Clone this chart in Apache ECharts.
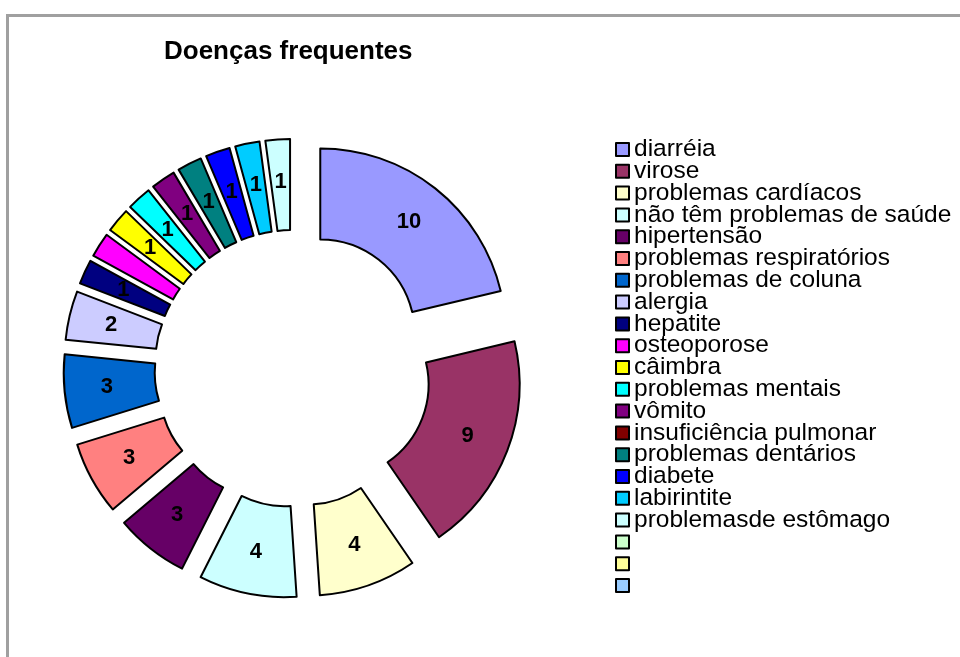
<!DOCTYPE html>
<html>
<head>
<meta charset="utf-8">
<title>Doenças frequentes</title>
<script src="https://cdn.jsdelivr.net/npm/echarts@6/dist/echarts.min.js"></script>
<style>
  html, body { margin: 0; padding: 0; background: #fff; }
  #main { width: 960px; height: 657px; }
</style>
</head>
<body>
<div id="main"></div>
<script>
// categorias, valores e cores (paleta padrão do Excel)
const categories = [
    'diarréia', 'virose', 'problemas cardíacos', 'não têm problemas de saúde',
    'hipertensão', 'problemas respiratórios', 'problemas de coluna', 'alergia',
    'hepatite', 'osteoporose', 'câimbra', 'problemas mentais', 'vômito',
    'insuficiência pulmonar', 'problemas dentários', 'diabete', 'labirintite',
    'problemasde estômago', ' ', '  ', '   '
];
const values = [10, 9, 4, 4, 3, 3, 3, 2, 1, 1, 1, 1, 1, 0, 1, 1, 1, 1, 0, 0, 0];
const colors = [
    '#9999FF', '#993366', '#FFFFCC', '#CCFFFF', '#660066', '#FF8080', '#0066CC',
    '#CCCCFF', '#000080', '#FF00FF', '#FFFF00', '#00FFFF', '#800080', '#800000',
    '#008080', '#0000FF', '#00CCFF', '#CCFFFF', '#CCFFCC', '#FFFF99', '#99CCFF'
];

let myChart = echarts.init(document.getElementById('main'));

const pieData = categories.map(function (name, i) {
    const item = {
        name: name,
        value: values[i],
        selected: true,
        itemStyle: {color: colors[i]}
    };
    if (values[i] === 0) {
        item.itemStyle.borderWidth = 0;
        item.label = {show: false};
    }
    return item;
});

myChart.setOption({
    animation: false,
    title: {
        text: 'Doenças frequentes',
        left: 164,
        top: 39,
        padding: 0,
        textStyle: {
            fontFamily: 'Liberation Sans, Arial, sans-serif',
            fontSize: 26,
            fontWeight: 'bold',
            color: '#000'
        }
    },
    graphic: [{
        type: 'rect',
        silent: true,
        shape: {x: 7.5, y: 15.5, width: 1000, height: 1000},
        style: {fill: null, stroke: '#a0a0a0', lineWidth: 3}
    }],
    legend: {
        orient: 'vertical',
        left: 615,
        top: 137,
        padding: 0,
        itemWidth: 13,
        itemHeight: 13,
        itemGap: -3.2,
        icon: 'rect',
        selectedMode: false,
        itemStyle: {borderColor: '#000', borderWidth: 2},
        textStyle: {
            fontFamily: 'Liberation Sans, Arial, sans-serif',
            fontSize: 24.5,
            lineHeight: 22,
            color: '#000'
        },
        data: categories
    },
    series: [{
        type: 'pie',
        center: [293, 368.5],
        radius: [94.5, 185.5],
        startAngle: 90,
        clockwise: true,
        selectedMode: 'multiple',
        selectedOffset: 44,
        avoidLabelOverlap: false,
        minShowLabelAngle: 0,
        itemStyle: {borderColor: '#000', borderWidth: 2},
        label: {
            show: true,
            position: 'inside',
            formatter: '{c}',
            fontFamily: 'Liberation Sans, Arial, sans-serif',
            fontSize: 22,
            fontWeight: 'bold',
            color: '#000'
        },
        labelLine: {show: false},
        emphasis: {disabled: true},
        data: pieData
    }]
});
</script>
</body>
</html>
